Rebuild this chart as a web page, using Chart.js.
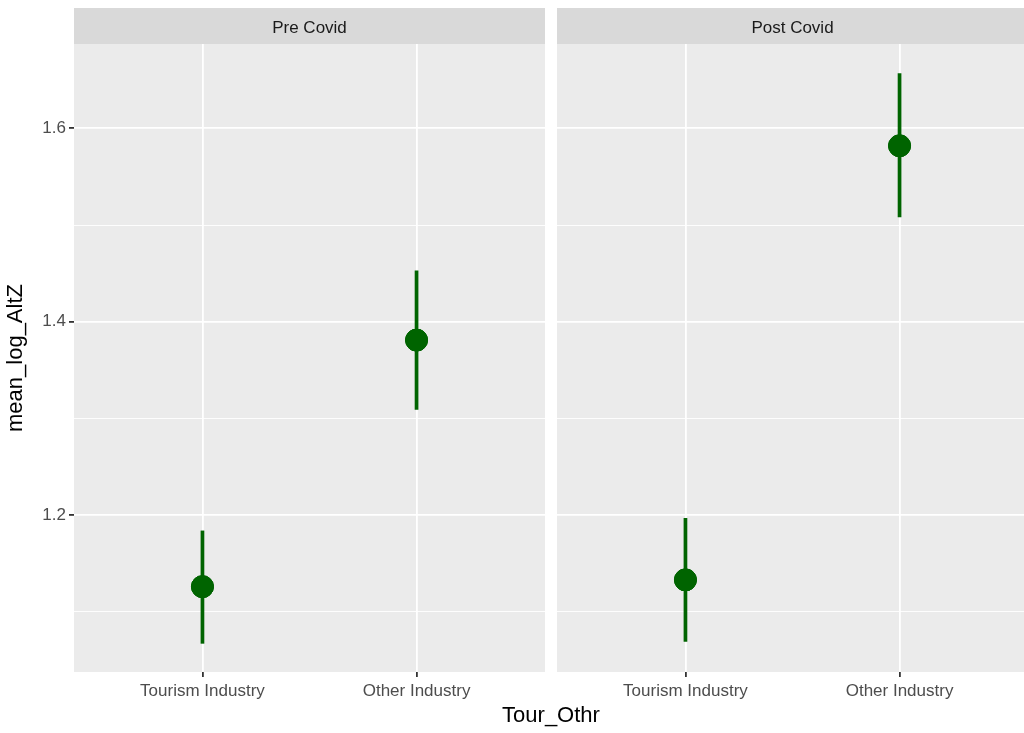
<!DOCTYPE html>
<html>
<head>
<meta charset="utf-8">
<script src="https://cdn.jsdelivr.net/npm/chart.js@4/dist/chart.umd.min.js"></script>
<style>
  html, body { margin: 0; padding: 0; background: #fff; overflow: hidden; }
  #wrap { position: relative; width: 1024px; height: 733px; overflow: hidden; }
  #left { position: absolute; left: 0; top: 0; width: 550px; height: 733px; }
  #right { position: absolute; left: 550px; top: 0; width: 480px; height: 733px; }
  #xtitle { position: absolute; left: 0; width: 1102px; top: 702px; text-align: center;
            font: 22px "Liberation Sans", Arial, sans-serif; color: #000; }
</style>
</head>
<body>
<div id="wrap">
  <div id="left"><canvas id="preChart"></canvas></div>
  <div id="right"><canvas id="postChart"></canvas></div>
  <div id="xtitle">Tour_Othr</div>
</div>
<script>
const categories = ['Tourism Industry', 'Other Industry'];
const panels = ['Pre Covid', 'Post Covid'];
const preMean = [1.126, 1.381];
const preLow = [1.067, 1.309];
const preHigh = [1.184, 1.453];
const postMean = [1.133, 1.582];
const postLow = [1.069, 1.508];
const postHigh = [1.197, 1.657];
const yTicks = [1.1, 1.2, 1.3, 1.4, 1.5, 1.6];
const yLabelled = [1.2, 1.4, 1.6];

const FONT = '"Liberation Sans", Arial, sans-serif';
const GREEN = '#006400';

const isMajor = v => yLabelled.some(m => Math.abs(m - v) < 1e-6);

// grey panel + strip on top
const panelPlugin = {
    id: 'panel',
    beforeDraw(chart, args, opts) {
        const { ctx, chartArea: a } = chart;
        ctx.save();
        ctx.fillStyle = '#EBEBEB';
        ctx.fillRect(a.left, a.top, a.right - a.left, a.bottom - a.top);
        ctx.fillStyle = '#D9D9D9';
        ctx.fillRect(a.left, 8, a.right - a.left, a.top - 8);
        ctx.fillStyle = '#1A1A1A';
        ctx.font = '17px ' + FONT;
        ctx.textAlign = 'center';
        ctx.textBaseline = 'middle';
        ctx.fillText(opts.title, (a.left + a.right) / 2, (8 + a.top) / 2 + 2);
        ctx.restore();
    }
};

// vertical error ranges
const rangePlugin = {
    id: 'ranges',
    afterDatasetsDraw(chart, args, opts) {
        const { ctx, scales: { x, y } } = chart;
        ctx.save();
        ctx.strokeStyle = GREEN;
        ctx.lineWidth = 3.7;
        opts.low.forEach((lo, i) => {
            const px = x.getPixelForValue(i + 1);
            ctx.beginPath();
            ctx.moveTo(px, y.getPixelForValue(lo));
            ctx.lineTo(px, y.getPixelForValue(opts.high[i]));
            ctx.stroke();
        });
        ctx.restore();
        // points on top of the lines
        const meta = chart.getDatasetMeta(0);
        meta.data.forEach(el => el.draw(ctx, chart.chartArea));
    }
};

function makeChart(id, title, mean, low, high, showY) {
    return new Chart(document.getElementById(id), {
        type: 'scatter',
        data: {
            datasets: [{
                data: mean.map((m, i) => ({ x: i + 1, y: m })),
                backgroundColor: GREEN,
                borderColor: GREEN,
                pointRadius: 11,
                pointHoverRadius: 11
            }]
        },
        options: {
            responsive: true,
            maintainAspectRatio: false,
            animation: false,
            events: [],
            layout: { autoPadding: false, padding: { top: 44, left: 0, right: showY ? 5 : 2, bottom: 0 } },
            plugins: {
                legend: { display: false },
                tooltip: { enabled: false },
                panel: { title: title },
                ranges: { low: low, high: high }
            },
            scales: {
                x: {
                    type: 'linear',
                    min: 0.4,
                    max: 2.6,
                    afterBuildTicks: s => { s.ticks = [{ value: 1 }, { value: 2 }]; },
                    afterFit: s => { s.height = 61; },
                    border: { display: false },
                    grid: { color: '#FFFFFF', lineWidth: 1.8, tickColor: '#333333', tickLength: 5 },
                    ticks: {
                        color: '#4D4D4D',
                        font: { family: FONT, size: 17 },
                        padding: 4,
                        maxRotation: 0,
                        callback: v => categories[v - 1]
                    }
                },
                y: {
                    type: 'linear',
                    min: 1.0377,
                    max: 1.6873,
                    afterBuildTicks: s => { s.ticks = yTicks.map(v => ({ value: v })); },
                    afterFit: s => { s.width = showY ? 74 : 7; },
                    border: { display: false },
                    grid: {
                        color: '#FFFFFF',
                        lineWidth: c => isMajor(c.tick.value) ? 1.8 : 0.9,
                        drawTicks: showY,
                        tickColor: c => isMajor(c.tick.value) ? '#333333' : 'rgba(0,0,0,0)',
                        tickLength: 5
                    },
                    ticks: {
                        display: showY,
                        color: '#4D4D4D',
                        font: { family: FONT, size: 17 },
                        padding: 3,
                        callback: v => isMajor(v) ? v.toFixed(1) : ''
                    },
                    title: {
                        display: showY,
                        text: 'mean_log_AltZ',
                        color: '#000',
                        font: { family: FONT, size: 22 },
                        padding: { top: 3, bottom: 0 }
                    }
                }
            }
        },
        plugins: [panelPlugin, rangePlugin]
    });
}

makeChart('preChart', panels[0], preMean, preLow, preHigh, true);
makeChart('postChart', panels[1], postMean, postLow, postHigh, false);
</script>
</body>
</html>
